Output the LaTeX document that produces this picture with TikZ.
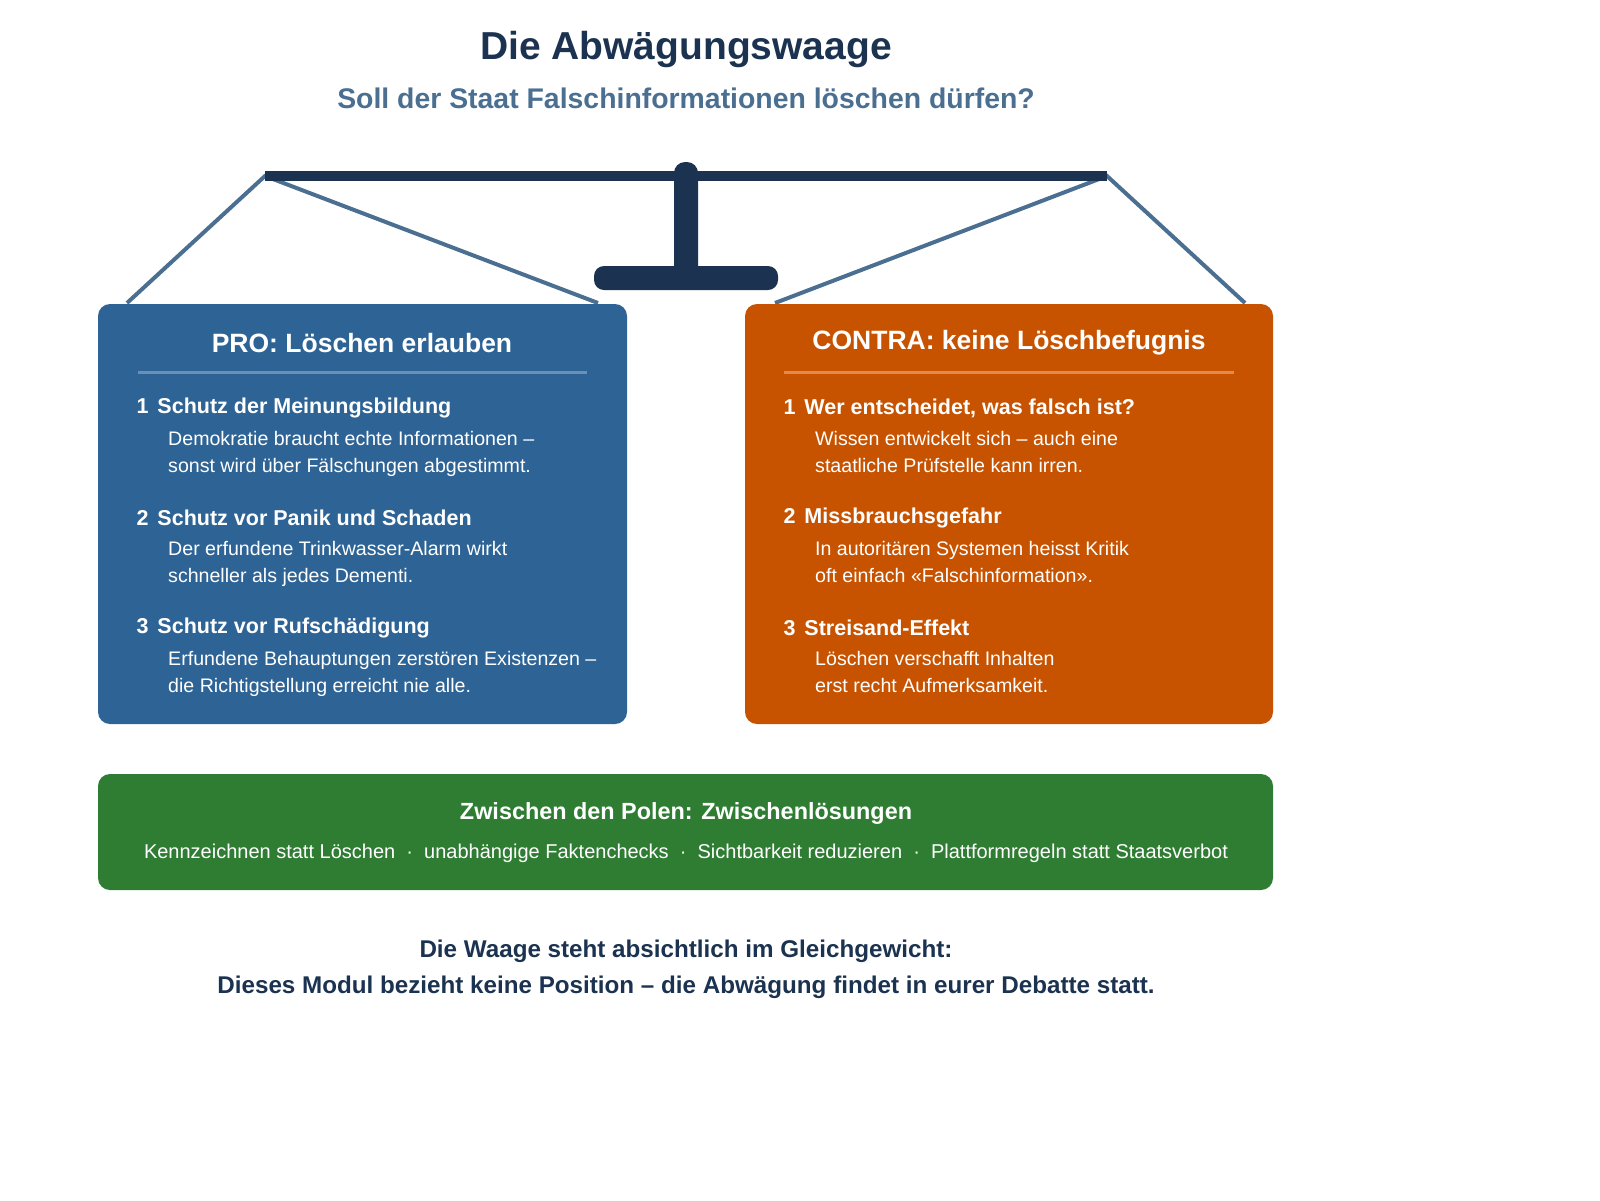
\documentclass[tikz,border=0pt]{standalone}
\usepackage{fontspec}
\setmainfont{Liberation Sans}
\definecolor{navy}{HTML}{1B3350}
\definecolor{steel}{HTML}{4A6F91}
\definecolor{problue}{HTML}{2E6395}
\definecolor{proline}{HTML}{6A90B8}
\definecolor{conorange}{HTML}{C75300}
\definecolor{conline}{HTML}{E38A4C}
\definecolor{midgreen}{HTML}{2E7D32}
\begin{document}
\begin{tikzpicture}[x=1pt,y=-1pt,
  string/.style={steel,line width=4pt},
  panel/.style={rounded corners=12pt},
  ttl/.style={text=white,font=\fontsize{26.5}{30}\selectfont\bfseries,anchor=center},
  num/.style={text=white,font=\fontsize{21.5}{25}\selectfont\bfseries,anchor=west},
  body/.style={text=white,font=\fontsize{19.6}{27}\selectfont,anchor=north west,align=left,inner sep=0pt}]
\useasboundingbox (0,0) rectangle (1600,1200);
\node[text=navy,font=\fontsize{39}{44}\selectfont\bfseries] (title) at (686,49) {Die Abwägungswaage};
\node[text=steel,font=\fontsize{28.4}{32}\selectfont\bfseries] (sub) at (686,98) {Soll der Staat Falschinformationen löschen dürfen?};
% scale
\coordinate (bl) at (265,176);
\coordinate (br) at (1107,176);
\coordinate (pl1) at (127,303);
\coordinate (pl2) at (598,303);
\coordinate (pr1) at (775,303);
\coordinate (pr2) at (1245,303);
\draw[string] (pl1) -- (bl) -- (pl2);
\draw[string] (pr1) -- (br) -- (pr2);
\draw[navy,line width=10pt] (bl) -- (br);
\fill[navy,rounded corners=11pt] (674,162) rectangle (698,285);
\fill[navy,rounded corners=10pt] (594,266) rectangle (778,290);
% PRO
\fill[problue,panel] (98,304) rectangle (627,724);
\node[ttl] (pt) at (362,343) {PRO: Löschen erlauben};
\draw[proline,line width=3pt] (138,372) -- (587,372);
\node[num] (p1) at (133,408) {1\hspace{9pt}Schutz der Meinungsbildung};
\node[body] (p1b) at (168,431) {Demokratie braucht echte Informationen –\\sonst wird über Fälschungen abgestimmt.};
\node[num] (p2) at (133,518) {2\hspace{9pt}Schutz vor Panik und Schaden};
\node[body] (p2b) at (168,541) {Der erfundene Trinkwasser-Alarm wirkt\\schneller als jedes Dementi.};
\node[num] (p3) at (133,628) {3\hspace{9pt}Schutz vor Rufschädigung};
\node[body] (p3b) at (168,651) {Erfundene Behauptungen zerstören Existenzen –\\die Richtigstellung erreicht nie alle.};
% CONTRA
\fill[conorange,panel] (745,304) rectangle (1273,724);
\node[ttl] (ct) at (1009,343) {CONTRA: keine Löschbefugnis};
\draw[conline,line width=3pt] (784,372) -- (1234,372);
\node[num] (c1) at (780,408) {1\hspace{9pt}Wer entscheidet, was falsch ist?};
\node[body] (c1b) at (815,431) {Wissen entwickelt sich – auch eine\\staatliche Prüfstelle kann irren.};
\node[num] (c2) at (780,518) {2\hspace{9pt}Missbrauchsgefahr};
\node[body] (c2b) at (815,541) {In autoritären Systemen heisst Kritik\\oft einfach «Falschinformation».};
\node[num] (c3) at (780,628) {3\hspace{9pt}Streisand-Effekt};
\node[body] (c3b) at (815,651) {Löschen verschafft Inhalten\\erst recht Aufmerksamkeit.};
% green
\fill[midgreen,panel] (98,774) rectangle (1273,890);
\node[text=white,font=\fontsize{23.4}{27}\selectfont\bfseries] (gt) at (686,813) {Zwischen den Polen: Zwischenlösungen};
\node[text=white,font=\fontsize{20}{24}\selectfont] (gl) at (686,853) {Kennzeichnen statt Löschen \ ·\ \ unabhängige Faktenchecks \ ·\ \ Sichtbarkeit reduzieren \ ·\ \ Plattformregeln statt Staatsverbot};
% footer
\node[text=navy,font=\fontsize{24.2}{36}\selectfont\bfseries,align=center] (foot) at (686,969) {Die Waage steht absichtlich im Gleichgewicht:\\Dieses Modul bezieht keine Position – die Abwägung findet in eurer Debatte statt.};
\end{tikzpicture}
\end{document}
